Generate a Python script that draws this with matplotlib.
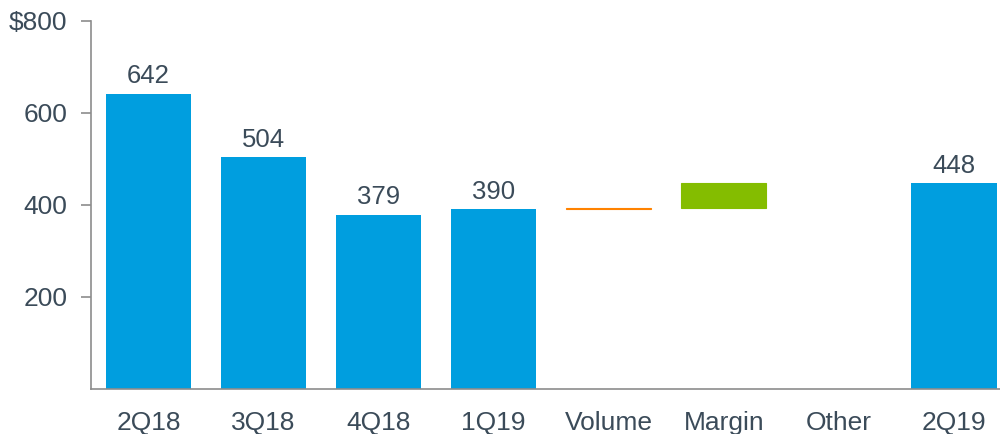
import matplotlib
matplotlib.use('Agg')
import matplotlib.pyplot as plt

# waterfall data ($)
categories = ['2Q18', '3Q18', '4Q18', '1Q19', 'Volume', 'Margin', 'Other', '2Q19']
totals = [642, 504, 379, 390, None, None, None, 448]
steps = {'Volume': 3, 'Margin': 55, 'Other': 0}
step_colors = {'Volume': '#FF8200', 'Margin': '#84BD00', 'Other': '#FF8200'}
y_ticks = [200, 400, 600, 800]
y_tick_labels = ['200', '400', '600', '$800']

BLUE = '#009EDF'
TEXT = '#3B4B59'
AXIS = '#8C8C8C'

plt.rcParams['font.family'] = ['Liberation Sans', 'DejaVu Sans']

fig = plt.figure(figsize=(10, 4.34), dpi=100)
ax = fig.add_axes([0.091, 0.104, 0.909, 0.848])

running = None
for i, cat in enumerate(categories):
    if totals[i] is not None:
        ax.bar(i, totals[i], width=0.74, color=BLUE)
        ax.text(i, totals[i] + 11, f'{totals[i]}', ha='center', va='bottom',
                fontsize=18.5, color=TEXT)
        running = totals[i]
    else:
        d = steps[cat]
        if d != 0:
            # 小さい変化でも見えるように枠線を同色で付ける
            ax.bar(i, d, bottom=running, width=0.74, color=step_colors[cat],
                   edgecolor=step_colors[cat], linewidth=0.8)
        running += d

ax.set_xlim(-0.5, 7.4)
ax.set_ylim(0, 800)
ax.set_xticks(range(len(categories)))
ax.set_xticklabels(categories, fontsize=19, color=TEXT)
ax.set_yticks(y_ticks)
ax.set_yticklabels(y_tick_labels, fontsize=19, color=TEXT)
ax.tick_params(axis='x', length=0, pad=16)
ax.tick_params(axis='y', length=7, width=1.2, color=AXIS, pad=10)
for side in ['top', 'right']:
    ax.spines[side].set_visible(False)
for side in ['left', 'bottom']:
    ax.spines[side].set_color(AXIS)
    ax.spines[side].set_linewidth(1.2)

fig.savefig('out.png', dpi=100)
